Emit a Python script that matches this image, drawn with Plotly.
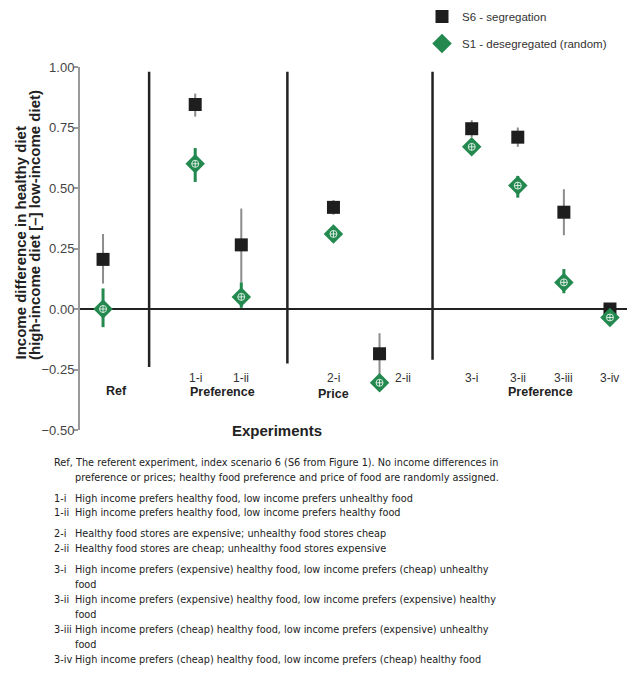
import plotly.graph_objects as go

# ---------------- data ----------------
groups = ["Ref", "Preference", "Price", "Preference"]
group_members = [["Ref"], ["1-i", "1-ii"], ["2-i", "2-ii"], ["3-i", "3-ii", "3-iii", "3-iv"]]

s6_name = "S6 - segregation"
s6_mean = [0.205, 0.845, 0.265, 0.42, -0.185, 0.745, 0.71, 0.40, 0.0]
s6_upper = [0.31, 0.89, 0.415, 0.45, -0.10, 0.78, 0.75, 0.495, 0.02]
s6_lower = [0.105, 0.795, 0.11, 0.39, -0.27, 0.71, 0.67, 0.305, -0.02]

s1_name = "S1 - desegregated (random)"
s1_mean = [0.0, 0.60, 0.05, 0.31, -0.305, 0.67, 0.51, 0.11, -0.035]
s1_upper = [0.085, 0.665, 0.11, 0.33, -0.29, 0.69, 0.55, 0.165, -0.02]
s1_lower = [-0.075, 0.525, 0.005, 0.29, -0.32, 0.65, 0.46, 0.065, -0.05]

y_ticks = [1.0, 0.75, 0.5, 0.25, 0.0, -0.25, -0.5]

y_title_lines = ["Income difference in healthy diet", "(high-income diet [–] low-income diet)"]
x_title = "Experiments"

caption_items = [
    ("Ref,", ["The referent experiment, index scenario 6 (S6 from Figure 1). No income differences in",
              "preference or prices; healthy food preference and price of food are randomly assigned."]),
    ("1-i", ["High income prefers healthy food, low income prefers unhealthy food"]),
    ("1-ii", ["High income prefers healthy food, low income prefers healthy food"]),
    ("2-i", ["Healthy food stores are expensive; unhealthy food stores cheap"]),
    ("2-ii", ["Healthy food stores are cheap; unhealthy food stores expensive"]),
    ("3-i", ["High income prefers (expensive) healthy food, low income prefers (cheap) unhealthy", "food"]),
    ("3-ii", ["High income prefers (expensive) healthy food, low income prefers (expensive) healthy", "food"]),
    ("3-iii", ["High income prefers (cheap) healthy food, low income prefers (expensive) unhealthy", "food"]),
    ("3-iv", ["High income prefers (cheap) healthy food, low income prefers (cheap) healthy food"]),
]

# ---------------- layout helpers ----------------
OFF = 8  # browser default body margin
W, H = 635 - OFF, 675 - OFF
L, R, T, B = 80 - OFF, 10 - OFF, 67 - OFF, 245
PW, PH = W - L - R, H - T - B


def px_x(px):
    return (px - OFF - L) / PW


def px_y(py):
    return (H - B - (py - OFF)) / PH


# category positions: one empty slot between groups
cats, xpos, seps, group_pos = [], [], [], []
pos = 0
for gi, members in enumerate(group_members):
    start = pos
    for m in members:
        cats.append(m)
        xpos.append(pos)
        pos += 1
    group_pos.append((start + pos - 1) / 2)
    if gi < len(group_members) - 1:
        seps.append(pos)
        pos += 1

GREEN = "#23894f"
fig = go.Figure()

fig.add_trace(go.Scatter(
    x=xpos, y=s6_mean, mode="markers", name=s6_name, legendgroup="a",
    marker=dict(symbol="square", size=13, color="#1e1e1e"),
    error_y=dict(type="data", symmetric=False,
                 array=[u - m for u, m in zip(s6_upper, s6_mean)],
                 arrayminus=[m - l for l, m in zip(s6_lower, s6_mean)],
                 color="#8c8c8c", thickness=2, width=0),
))
fig.add_trace(go.Scatter(
    x=xpos, y=s1_mean, mode="markers", name=s1_name, legendgroup="b",
    marker=dict(symbol="diamond", size=15, color=GREEN),
    error_y=dict(type="data", symmetric=False,
                 array=[u - m for u, m in zip(s1_upper, s1_mean)],
                 arrayminus=[m - l for l, m in zip(s1_lower, s1_mean)],
                 color=GREEN, thickness=3, width=0),
))
fig.add_trace(go.Scatter(
    x=xpos, y=s1_mean, mode="markers", showlegend=False, hoverinfo="skip",
    marker=dict(symbol="circle-cross-open", size=7, color="rgba(255,255,255,0.8)",
                line=dict(width=1, color="rgba(255,255,255,0.8)")),
))

# separators
sep_offsets = [0, 0, 0.15]
sep_bottoms = [-0.24, -0.225, -0.21]
for s, off, bot in zip(seps, sep_offsets, sep_bottoms):
    fig.add_shape(type="line", xref="x", yref="y", x0=s + off, x1=s + off, y0=bot, y1=0.98,
                  line=dict(color="#222222", width=2.5), layer="below")

ann = []
# category labels (the single "Ref" experiment only carries its group label)
for c, x in zip(cats, xpos):
    if c == "Ref":
        continue
    xa = x + 0.5 if c == "2-ii" else x
    ann.append(dict(x=xa, y=-0.285, xref="x", yref="y", text=c, showarrow=False,
                    xanchor="center", yanchor="middle",
                    font=dict(family="Liberation Sans, Arial", size=12, color="#333")))
# group labels
g_offsets = [0.3, 0.1, -0.5, 0.0]
g_y = [-0.34, -0.345, -0.352, -0.345]
for g, gp, off, gy in zip(groups, group_pos, g_offsets, g_y):
    ann.append(dict(x=gp + off, y=gy, xref="x", yref="y", text="<b>%s</b>" % g, showarrow=False,
                    xanchor="center", yanchor="middle",
                    font=dict(family="Liberation Sans, Arial", size=12.5, color="#222")))

ann.append(dict(x=px_x(277), y=px_y(431), xref="paper", yref="paper", text="<b>%s</b>" % x_title,
                xanchor="center", yanchor="middle",
                showarrow=False, font=dict(family="Liberation Sans, Arial", size=15, color="#222")))

# y-axis title (two left-aligned rotated lines)
for text, cx in zip(y_title_lines, [20, 34]):
    ann.append(dict(x=px_x(cx), y=px_y(362), xref="paper", yref="paper", text="<b>%s</b>" % text,
                    textangle=-90, xanchor="center", yanchor="bottom", showarrow=False,
                    font=dict(family="Liberation Sans, Arial", size=15, color="#222")))

# caption
cap_font = dict(family="DejaVu Sans Condensed, DejaVu Sans", size=10.8, color="#222")
line_y = [463, 477, 498, 512, 533, 548, 569, 584, 599, 614, 629, 644, 659]
li = 0
for lab, lines in caption_items:
    ann.append(dict(x=px_x(52), y=px_y(line_y[li]), xref="paper", yref="paper", text=lab,
                    xanchor="left", yanchor="middle", showarrow=False, font=cap_font))
    for ln in lines:
        ann.append(dict(x=px_x(73), y=px_y(line_y[li]), xref="paper", yref="paper", text=ln,
                        xanchor="left", yanchor="middle", showarrow=False, font=cap_font))
        li += 1

fig.update_layout(
    width=W, height=H, margin=dict(l=L, r=R, t=T, b=B, autoexpand=False),
    paper_bgcolor="white", plot_bgcolor="white",
    annotations=ann,
    showlegend=True,
    legend=dict(x=px_x(422), y=px_y(2), xanchor="left", yanchor="top",
                font=dict(family="Liberation Sans, Arial", size=11.5, color="#333"),
                tracegroupgap=8, bgcolor="rgba(0,0,0,0)"),
    xaxis=dict(range=[-0.5, 11.5], showgrid=False, zeroline=False, showline=False,
               showticklabels=False, ticks=""),
    yaxis=dict(range=[-0.5, 1.0], tickvals=y_ticks, tickformat=".2f", showgrid=False,
               zeroline=True, zerolinecolor="#222", zerolinewidth=2,
               showline=True, linecolor="#999", linewidth=2, ticks="outside", ticklen=4,
               tickcolor="#999", tickwidth=1.5, ticklabelstandoff=-3,
               tickfont=dict(family="Liberation Sans, Arial", size=13, color="#444")),
)

fig.write_html("out.html")
